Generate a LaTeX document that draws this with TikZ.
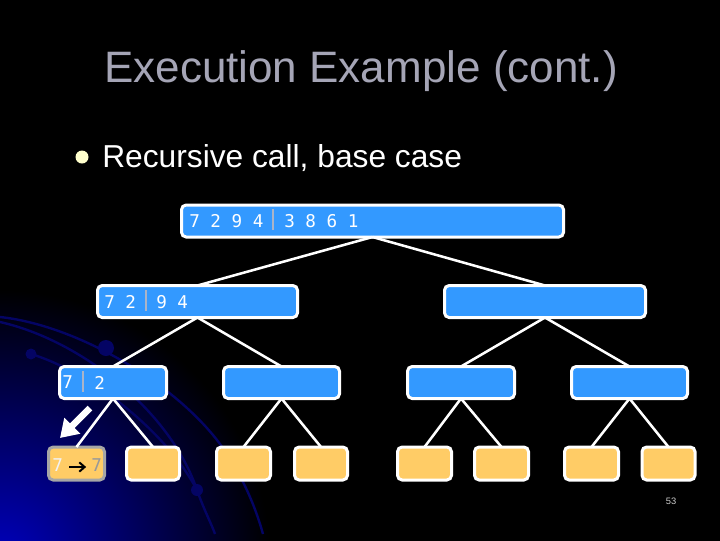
\documentclass[tikz,border=0pt]{standalone}
\usepackage{fontspec}
\setmainfont{Liberation Sans}
\newfontfamily\digitfont{DejaVu Sans Mono}
\usetikzlibrary{arrows.meta}
\definecolor{boxblue}{RGB}{51,153,255}
\definecolor{boxorange}{RGB}{255,204,102}
\definecolor{arcblue}{RGB}{4,4,100}
\definecolor{titlegray}{RGB}{165,165,182}
\definecolor{bulletyellow}{RGB}{255,255,204}
\definecolor{bargray}{RGB}{170,180,200}
\tikzset{
  x=0.75pt,y=-0.75pt,
  box/.style 2 args={draw=white,line width=2.25pt,rounded corners=3.5pt,inner sep=0pt,outer sep=0pt,
    minimum width=#1*0.75pt,minimum height=#2*0.75pt},
  mergebox/.style={box={#1}{32},fill=boxblue},
  basebox/.style={box={#1}{33},fill=boxorange},
  link/.style={draw=white,line width=1.9pt},
  digits/.style={text=white,font=\digitfont\fontsize{13.2pt}{15pt}\selectfont,inner sep=0pt,anchor=west},
  divider/.style={draw=bargray,line width=1.4pt},
  orbit/.style={draw=arcblue,line width=1.8pt},
  planet/.style={fill=arcblue},
}
\begin{document}
\begin{tikzpicture}
\useasboundingbox (0,0) rectangle (720,540);
\fill[black] (-5,-5) rectangle (725,545);
\begin{scope}
  \clip (-5,-5) rectangle (725,545);
  \shade[inner color={rgb,255:red,0;green,0;blue,190},outer color=black] (0,560) circle (270);
  \draw[orbit] (0,317) .. controls (75,325) and (170,380) .. (217,440) .. controls (240,470) and (255,505) .. (263,534);
  \draw[orbit] (0,322) .. controls (80,340) and (170,410) .. (197,490) .. controls (204,510) and (212,525) .. (215,534);
  \draw[orbit] (31,354) .. controls (90,372) and (165,430) .. (197,490);
  \fill[planet] (106,348) circle (8);
  \fill[planet] (31,354) circle (5.5);
  \fill[planet] (197,490) circle (6);
\end{scope}

\node[anchor=base,text=titlegray,font=\fontsize{33pt}{36pt}\selectfont,inner sep=0pt] (title) at (361,82) {Execution Example (cont.)};
\fill[bulletyellow] (82,157) circle (6.5);
\node[anchor=base west,text=white,font=\fontsize{23.8pt}{27pt}\selectfont,inner sep=0pt] (sub) at (102,167) {Recursive call, base case};

\node[mergebox=382] (r) at (372.5,221) {};
\node[mergebox=200] (a) at (197.5,301.5) {};
\node[mergebox=201] (b) at (545,301.5) {};
\node[mergebox=107] (aa) at (113,382.5) {};
\node[mergebox=116] (ab) at (281.5,382.5) {};
\node[mergebox=107] (ba) at (461,382.5) {};
\node[mergebox=116] (bb) at (629.5,382.5) {};
\node[basebox=56,draw=gray!70!white] (aaa) at (76.5,463.5) {};
\node[basebox=53] (aab) at (153,463.5) {};
\node[basebox=54] (aba) at (243.5,463.5) {};
\node[basebox=53] (abb) at (321,463.5) {};
\node[basebox=54] (baa) at (424.5,463.5) {};
\node[basebox=54] (bab) at (501.5,463.5) {};
\node[basebox=54] (bba) at (591.5,463.5) {};
\node[basebox=53] (bbb) at (668.5,463.5) {};

\foreach \p/\c in {r/a,r/b,a/aa,a/ab,b/ba,b/bb,aa/aaa,aa/aab,ab/aba,ab/abb,ba/baa,ba/bab,bb/bba,bb/bbb}
  \draw[link] (\p.south) -- (\c.north);

% labels
\node[digits] (t1) at (189,221) {7 2 9 4};
\node[digits] (t2) at (284,221) {3 8 6 1};
\coordinate (t3) at (273,209); \coordinate (t4) at (273,230);
\draw[divider] (t3) -- (t4);
\node[digits] (m1) at (104,302) {7 2};
\node[digits] (m2) at (156,302) {9 4};
\coordinate (m3) at (146,290); \coordinate (m4) at (146,311);
\draw[divider] (m3) -- (m4);
\node[digits] (n1) at (62,382.5) {7};
\node[digits] (n2) at (94,382.5) {2};
\coordinate (n3) at (83,371); \coordinate (n4) at (83,392);
\draw[divider] (n3) -- (n4);
\node[digits,text=white!90!gray] (b1) at (52,465) {7};
\node[digits,text=gray!80!white] (b2) at (91,465) {7};
\draw[-{Straight Barb[length=4pt,width=7pt]},black,line width=1.5pt] (b1.east)++(6,2) -- ++(17,0);

\coordinate (hintA) at (90,408);
\coordinate (hintB) at (60,438);
\draw[draw=white,line width=5pt,-{Triangle[length=13pt,width=16pt]}] (hintA) -- (hintB);

\node[text=gray!40!white,font=\fontsize{7pt}{8pt}\selectfont,inner sep=0pt] (page) at (671,501) {53};
\end{tikzpicture}
\end{document}
